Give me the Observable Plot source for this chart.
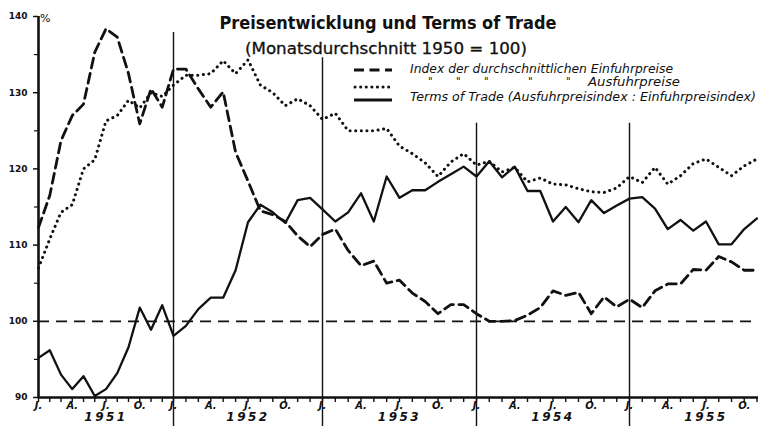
<!DOCTYPE html>
<html><head><meta charset="utf-8">
<script src="https://cdn.jsdelivr.net/npm/d3@7"></script>
<script src="https://cdn.jsdelivr.net/npm/@observablehq/plot@0.6"></script>
<style>
html,body{margin:0;padding:0;background:#fff;}
#wrap{position:relative;width:758px;height:426px;overflow:hidden;background:#fff;}
#chart{position:absolute;left:0;top:0;}
#ov{position:absolute;left:0;top:0;pointer-events:none;}
#ov text{fill:#111;font-family:"DejaVu Sans",sans-serif;}
</style></head><body>
<div id="wrap">
<div id="chart"></div>
<svg id="ov" width="758" height="426">
  <text x="388" y="29" text-anchor="middle" font-size="17" font-weight="bold" textLength="337" lengthAdjust="spacingAndGlyphs">Preisentwicklung und Terms of Trade</text>
  <text x="386" y="54" text-anchor="middle" font-size="15" textLength="282" lengthAdjust="spacingAndGlyphs" stroke="#111" stroke-width="0.3">(Monatsdurchschnitt 1950 = 100)</text>
  <line x1="354" y1="70" x2="392" y2="70" stroke="#111" stroke-width="2.8" stroke-dasharray="10,5.5"/>
  <line x1="355" y1="87" x2="392" y2="87" stroke="#111" stroke-width="3" stroke-dasharray="0.1,5.5" stroke-linecap="round"/>
  <line x1="354" y1="100" x2="392" y2="100" stroke="#111" stroke-width="3"/>
  <text x="410" y="73" font-size="11.5" font-style="italic" textLength="263" lengthAdjust="spacingAndGlyphs">Index der durchschnittlichen Einfuhrpreise</text>
  <text x="428" y="85" font-size="10" font-style="italic">"</text>
  <text x="456" y="85" font-size="10" font-style="italic">"</text>
  <text x="484" y="85" font-size="10" font-style="italic">"</text>
  <text x="528" y="85" font-size="10" font-style="italic">"</text>
  <text x="566" y="85" font-size="10" font-style="italic">"</text>
  <text x="588" y="86" font-size="11.5" font-style="italic" textLength="92" lengthAdjust="spacingAndGlyphs">Ausfuhrpreise</text>
  <text x="410" y="101" font-size="11.5" font-style="italic" textLength="346" lengthAdjust="spacingAndGlyphs">Terms of Trade (Ausfuhrpreisindex : Einfuhrpreisindex)</text>
  <text x="40" y="22" font-size="11">%</text>
</svg>
</div>
<script>
// Monthly values, Jan 1951 .. Nov 1955 (index 0 = Jan 1951)
const importPrices = [
  112.3, 116.5, 123.7, 127.0, 128.5, 135.3, 138.4, 137.3, 132.5, 125.9, 130.5, 128.1,
  133.1, 133.1, 130.5, 128.1, 130.1, 122.2, 118.4, 114.5, 114.0, 113.1, 111.2, 109.8,
  111.4, 112.1, 109.3, 107.3, 107.9, 105.0, 105.4, 103.7, 102.6, 101.0, 102.2, 102.2,
  101.0, 100.0, 100.0, 100.1, 100.8, 101.8, 104.0, 103.4, 103.8, 101.0, 103.2, 101.9,
  102.9, 101.8, 104.0, 104.9, 104.9, 106.8, 106.7, 108.5, 107.8, 106.7, 106.7
];
const exportPrices = [
  107.0, 110.8, 114.3, 115.3, 120.0, 121.2, 126.3, 127.0, 129.0, 128.0, 130.0, 129.5,
  131.0, 132.3, 132.3, 132.5, 134.2, 132.5, 134.3, 131.0, 130.0, 128.3, 129.2, 128.3,
  126.5, 127.3, 125.0, 125.0, 125.0, 125.3, 123.0, 122.0, 120.8, 119.0, 120.9, 122.0,
  120.5, 121.0, 119.6, 120.2, 118.3, 118.8, 118.0, 117.9, 117.4, 117.0, 116.9, 117.5,
  119.0, 118.2, 120.2, 118.0, 119.1, 120.7, 121.3, 120.2, 119.1, 120.4, 121.3
];
const termsOfTrade = [
  95.2, 96.2, 93.0, 91.1, 92.8, 90.2, 91.1, 93.2, 96.6, 101.8, 98.9, 102.1,
  98.1, 99.4, 101.6, 103.1, 103.1, 106.7, 113.0, 115.3, 114.3, 112.9, 115.9, 116.2,
  114.7, 113.1, 114.3, 116.8, 113.1, 119.0, 116.2, 117.2, 117.2, 118.3, 119.3, 120.3,
  119.0, 121.0, 118.9, 120.3, 117.1, 117.1, 113.1, 115.0, 113.0, 115.9, 114.2, 115.2,
  116.1, 116.3, 114.8, 112.1, 113.3, 111.9, 113.1, 110.1, 110.1, 112.1, 113.5
];
const years = [1951, 1952, 1953, 1954, 1955];
const quarterLabels = ["J.", "A.", "J.", "O."];
const yMajorTicks = [90, 100, 110, 120, 130, 140];
const yMinorTicks = [95, 105, 115, 125, 135];
const baseline = [100];
// year divider lines (January of 1952..1955) and the index value at which each starts
const dividerMonths = [12, 24, 36, 48];
const dividerTop = [137.9, 134.6, 126, 126];
const dividerBottom = 86.2;

const toRows = arr => arr.map((v, i) => ({t: i, v}));
const nMonths = importPrices.length;
const monthTicks = d3.range(0, nMonths);
const quarterTicks = monthTicks.filter(t => t % 3 === 0);
const yearTicks = years.map((y, i) => i * 12 + 6);
const dividers = dividerMonths.map((t, i) => ({t, top: dividerTop[i]}));

const ink = "#111";
const chart = Plot.plot({
  width: 758,
  height: 426,
  marginTop: 16,
  marginBottom: 29,
  marginLeft: 38,
  marginRight: 0,
  style: {background: "transparent", color: ink, fontFamily: "DejaVu Sans, sans-serif"},
  x: {type: "linear", domain: [0, 12, 24, 36, 48, 60], range: [38, 173, 322, 476, 629, 782], label: null},
  y: {domain: [90, 140], label: null},
  marks: [
    Plot.ruleY(baseline, {stroke: ink, strokeWidth: 1.8, strokeDasharray: "11,7"}),
    Plot.ruleX(dividers, {x: "t", y1: "top", y2: () => dividerBottom, stroke: ink, strokeWidth: 1.4}),
    Plot.ruleX([0], {y1: 90, y2: 140, stroke: ink, strokeWidth: 2.6}),
    Plot.ruleY([90], {stroke: ink, strokeWidth: 2.6}),
    Plot.axisY({ticks: yMajorTicks, tickSize: 5, tickPadding: 6, fontSize: 9, fontWeight: "bold", tickFormat: d => String(d), strokeWidth: 1.5, label: null}),
    Plot.axisY({ticks: yMinorTicks, tickSize: 4, tickFormat: () => "", strokeWidth: 1.2, label: null}),
    Plot.axisX({ticks: monthTicks, tickSize: 5, tickFormat: () => "", strokeWidth: 1.4, label: null}),
    Plot.axisX({ticks: quarterTicks, tickSize: 0, tickPadding: 4, fontSize: 10, fontWeight: "bold", fontStyle: "italic", tickFormat: t => quarterLabels[(t % 12) / 3], label: null}),
    Plot.axisX({ticks: yearTicks, tickSize: 0, tickPadding: 15, fontSize: 12, fontWeight: "bold", fontStyle: "italic", tickFormat: t => String(years[(t - 6) / 12]), label: null}),
    Plot.line(toRows(exportPrices), {x: "t", y: "v", stroke: ink, strokeWidth: 3, strokeDasharray: "0.1,5.5", strokeLinecap: "round"}),
    Plot.line(toRows(importPrices), {x: "t", y: "v", stroke: ink, strokeWidth: 2.8, strokeDasharray: "10,5.5"}),
    Plot.line(toRows(termsOfTrade), {x: "t", y: "v", stroke: ink, strokeWidth: 2.3})
  ]
});
d3.select(chart).selectAll("text").filter(function() { return /^19\d\d$/.test(this.textContent); }).style("letter-spacing", "2.5px");
document.getElementById("chart").appendChild(chart);
</script>
</body></html>
